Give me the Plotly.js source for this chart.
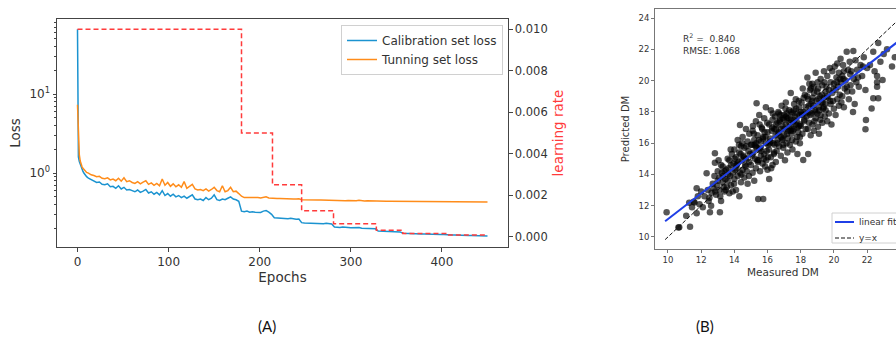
<!DOCTYPE html>
<html>
<head>
<meta charset="utf-8">
<script src="https://cdn.plot.ly/plotly-3.0.1.min.js"></script>
<style>html,body{margin:0;padding:0;background:#fff;}#chart{width:896px;height:337px;}</style>
</head>
<body>
<div id="chart"></div>
<script>
// ---------- Panel A : training history ----------
const epochs = [0,1,2,3,4,5,6,7,8,9,10,
12,15,18,21,24,27,30,33,36,39,
42,45,48,51,54,57,60,63,66,69,
72,75,78,81,84,87,90,93,96,99,
102,105,108,111,114,117,120,123,126,129,
132,135,138,141,144,147,150,153,156,159,
162,165,168,171,174,177,180,183,186,189,
192,195,198,201,204,207,210,213,216,219,
222,225,228,231,234,237,240,243,246,249,
252,255,258,261,264,267,270,273,276,279,
282,285,288,291,294,297,300,303,306,309,
312,315,318,321,324,327,330,333,336,339,
342,345,348,351,354,357,360,363,366,369,
372,375,378,381,384,387,390,393,396,399,
402,405,408,411,414,417,420,423,426,429,
432,435,438,441,444,447,450];

const calibrationLoss = [66,1.6,1.4,1.28,1.18,1.1,1.05,1.0,0.96,0.93,0.90,
0.86,0.82,0.80,0.76,0.77,0.72,0.71,0.73,0.67,0.68,
0.64,0.69,0.63,0.66,0.61,0.62,0.60,0.58,0.61,0.57,
0.59,0.62,0.56,0.58,0.54,0.57,0.53,0.60,0.52,0.55,
0.51,0.54,0.50,0.52,0.49,0.51,0.48,0.50,0.53,0.47,
0.46,0.47,0.45,0.49,0.46,0.48,0.53,0.46,0.45,0.47,
0.46,0.48,0.50,0.47,0.46,0.44,0.33,0.325,0.33,0.32,
0.325,0.32,0.322,0.318,0.33,0.335,0.32,0.30,0.272,0.27,
0.268,0.27,0.266,0.265,0.268,0.262,0.26,0.262,0.236,0.233,
0.232,0.234,0.23,0.232,0.229,0.23,0.228,0.231,0.229,0.227,
0.208,0.206,0.205,0.207,0.204,0.205,0.203,0.204,0.202,0.205,
0.201,0.2,0.202,0.199,0.198,0.197,0.185,0.184,0.183,0.183,
0.182,0.181,0.182,0.18,0.18,0.173,0.172,0.172,0.171,0.171,
0.17,0.17,0.169,0.17,0.169,0.168,0.168,0.168,0.167,0.167,
0.167,0.165,0.164,0.164,0.164,0.163,0.163,0.163,0.162,0.162,
0.162,0.162,0.161,0.161,0.161,0.16,0.16];

const tuningLoss = [7.3,2.4,1.7,1.42,1.28,1.2,1.15,1.11,1.07,1.04,1.02,
1.00,0.95,0.93,0.90,0.91,0.86,0.85,0.87,0.82,0.84,
0.80,0.86,0.79,0.87,0.78,0.80,0.76,0.74,0.78,0.73,
0.77,0.80,0.72,0.75,0.70,0.74,0.69,0.84,0.70,0.76,
0.68,0.73,0.67,0.71,0.66,0.78,0.64,0.68,0.72,0.63,
0.61,0.62,0.60,0.63,0.59,0.62,0.66,0.60,0.58,0.69,
0.58,0.60,0.66,0.58,0.59,0.55,0.51,0.49,0.49,0.495,
0.487,0.485,0.49,0.484,0.493,0.50,0.485,0.48,0.478,0.476,
0.477,0.474,0.476,0.472,0.474,0.471,0.47,0.472,0.46,0.458,
0.457,0.459,0.456,0.458,0.455,0.457,0.455,0.462,0.456,0.454,
0.450,0.449,0.448,0.45,0.447,0.448,0.446,0.447,0.445,0.452,
0.445,0.444,0.445,0.443,0.444,0.442,0.441,0.441,0.44,0.44,
0.439,0.439,0.438,0.438,0.437,0.437,0.436,0.436,0.436,0.435,
0.435,0.435,0.434,0.434,0.434,0.434,0.433,0.433,0.433,0.433,
0.433,0.432,0.432,0.432,0.432,0.432,0.431,0.431,0.431,0.431,
0.431,0.431,0.43,0.43,0.43,0.43,0.43];

const lrEpochs = [0,180,214,246,281,328,357,405,450];
const learningRate = [0.01,0.005,0.0025,0.00125,0.000625,0.0003125,0.00015625,0.000078125,0.000078125];

const lossTickVals = [1,10];
const lossTickText = ['10<sup>0</sup>','10<sup>1</sup>'];
const lossMinorVals = [0.2,0.3,0.4,0.5,0.6,0.7,0.8,0.9,2,3,4,5,6,7,8,9,20,30,40,50,60,70,80];
const epochTicks = [0,100,200,300,400];
const lrTicks = [0,0.002,0.004,0.006,0.008,0.010];

// ---------- Panel B : measured vs predicted DM ----------
const measuredDM = [
9.92,10.63,10.68,11.33,11.28,11.73,11.73,11.55,11.9,11.1,11.45,11.8,12.0,11.6,
12.33,12.83,12.83,13.13,12.53,12.63,12.1,12.2,12.4,12.5,12.7,12.8,12.9,13.0,13.0,13.1,13.2,13.2,13.3,13.3,13.4,13.4,13.45,12.6,12.75,12.95,13.05,13.15,13.25,13.35,12.45,12.85,13.1,13.3,13.48,
13.5,13.55,13.6,13.6,13.65,13.7,13.7,13.75,13.8,13.8,13.85,13.9,13.9,13.95,14.0,14.0,14.05,14.1,14.1,14.15,14.2,14.2,14.25,14.3,14.3,14.34,14.35,14.4,14.4,14.45,14.5,14.5,14.55,14.6,14.6,14.65,14.7,14.7,14.75,14.8,14.8,14.85,14.9,14.9,14.95,15.0,13.62,13.78,13.98,14.12,14.28,14.42,14.58,14.72,14.88,14.02,14.48,14.18,14.68,14.38,
15.0,15.05,15.1,15.1,15.15,15.2,15.2,15.25,15.3,15.3,15.34,15.35,15.4,15.44,15.45,15.5,15.5,15.55,15.6,15.6,15.65,15.7,15.74,15.75,15.8,15.8,15.85,15.9,15.9,15.95,16.0,16.0,16.05,16.1,16.1,16.15,16.2,16.2,16.25,16.3,16.3,16.35,16.4,16.4,16.45,16.5,15.08,15.18,15.28,15.38,15.48,15.58,15.68,15.78,15.88,15.98,16.08,16.18,16.28,16.38,16.48,15.12,15.42,15.62,15.92,16.22,16.42,15.32,15.52,15.72,16.02,16.32,15.22,15.82,16.12,
16.5,16.55,16.6,16.6,16.65,16.7,16.7,16.75,16.8,16.8,16.85,16.9,16.9,16.95,17.0,17.0,17.05,17.1,17.1,17.15,17.2,17.2,17.25,17.3,17.3,17.35,17.4,17.4,17.45,17.5,17.5,17.55,17.6,17.6,17.65,17.7,17.7,17.75,17.8,17.8,17.85,17.9,17.9,17.95,18.0,16.52,16.62,16.72,16.82,16.92,17.02,17.12,17.22,17.32,17.42,17.52,17.62,17.72,17.82,17.92,16.58,16.78,16.98,17.18,17.38,17.58,17.78,17.98,16.68,16.88,17.08,17.28,17.48,17.68,17.88,17.95,16.95,17.45,17.15,
18.0,18.05,18.1,18.15,18.15,18.2,18.25,18.3,18.3,18.35,18.4,18.45,18.45,18.5,18.5,18.55,18.6,18.6,18.65,18.7,18.7,18.75,18.8,18.8,18.85,18.9,18.9,18.95,19.0,19.04,19.05,19.1,19.1,19.15,19.2,19.2,19.25,19.3,19.3,19.35,19.4,19.4,19.45,19.5,18.08,18.18,18.28,18.38,18.48,18.58,18.68,18.78,18.88,18.98,19.08,19.18,19.28,19.38,19.48,18.12,18.42,18.72,19.02,19.32,18.22,18.52,18.82,19.12,19.42,18.62,
19.5,19.55,19.6,19.6,19.65,19.7,19.7,19.75,19.8,19.8,19.85,19.9,19.9,19.95,20.0,20.0,20.05,20.1,20.1,20.15,20.2,20.2,20.25,20.3,20.3,20.35,20.4,20.4,20.45,20.5,20.5,20.55,20.6,20.6,20.65,20.7,20.77,20.8,20.85,20.9,20.95,21.0,19.58,19.78,19.98,20.18,20.38,20.58,20.78,20.98,
21.05,21.1,21.17,21.2,21.25,21.3,21.35,21.4,21.5,21.6,21.7,21.8,21.9,21.93,22.0,22.17,22.27,22.37,22.37,22.45,22.6,22.6,22.67,22.67,22.8,22.93,23.0,23.2,23.5,23.67,21.15,21.45,21.75,21.9,22.6];

const predictedDM = [
11.58,10.60,10.62,10.66,12.19,11.51,13.11,12.25,12.1,11.35,11.9,12.6,12.9,12.2,
14.07,14.75,15.35,11.58,11.58,12.82,11.9,12.6,13.0,12.5,13.4,13.9,12.7,13.6,14.2,13.0,12.3,14.6,13.5,13.9,12.9,14.2,13.7,12.0,13.1,13.3,14.9,12.6,14.1,13.2,12.3,12.9,13.8,14.5,13.0,
14.3,13.2,15.0,13.6,14.4,12.8,14.9,13.9,14.6,13.3,15.3,14.1,12.9,14.7,15.6,13.7,14.3,15.1,13.0,14.6,16.2,13.9,14.8,15.4,12.6,17.16,14.1,15.8,13.5,14.9,16.4,14.3,15.2,13.8,15.7,14.6,16.9,15.0,14.2,16.1,13.4,15.5,14.8,16.6,15.3,15.9,14.0,15.6,13.4,14.4,15.9,14.0,15.1,15.8,13.9,15.0,16.0,14.7,14.5,15.3,
14.6,15.9,14.1,16.8,15.4,13.6,16.2,15.0,14.4,17.4,18.55,15.7,16.5,12.43,14.9,15.6,17.8,14.2,16.1,15.2,17.0,14.7,12.43,16.4,15.3,17.6,14.5,16.0,18.3,15.5,16.7,14.3,15.9,17.2,13.7,16.3,15.1,18.1,16.8,14.6,17.5,16.0,15.4,16.9,17.7,14.8,15.2,16.6,15.8,14.9,16.2,15.7,16.9,15.0,16.4,17.3,15.6,16.1,17.0,15.3,16.5,17.1,14.8,15.5,14.9,14.4,15.9,16.0,17.2,16.3,15.1,17.9,15.9,16.7,16.0,
16.9,15.5,17.3,16.2,18.0,15.8,16.7,17.5,15.2,16.9,18.4,16.3,17.1,15.7,17.8,16.5,14.9,17.2,18.6,16.0,17.6,15.4,16.8,18.1,17.0,15.9,17.5,19.2,16.6,17.9,15.6,17.3,18.5,16.9,17.7,16.1,18.8,17.4,15.3,17.9,16.7,18.3,17.1,16.4,18.0,17.2,16.6,17.4,16.4,17.6,16.9,17.7,16.3,17.3,18.0,16.8,17.5,18.2,17.0,17.8,16.0,17.8,17.5,16.6,16.8,18.1,16.4,17.2,17.9,16.2,18.2,17.6,16.2,17.2,18.7,15.99,15.9,16.9,17.9,
17.1,18.6,16.6,14.92,18.0,17.4,19.1,16.9,18.3,17.7,20.2,15.3,18.8,17.3,18.0,19.4,16.5,18.5,17.9,19.8,17.2,18.4,16.8,19.2,18.1,17.6,20.5,18.7,17.9,17.05,19.5,18.3,16.6,19.0,17.8,20.1,18.6,17.3,19.7,18.2,18.9,20.6,17.7,19.3,17.8,18.9,17.9,19.0,18.4,17.8,18.7,19.6,18.0,19.3,18.8,17.5,19.1,18.3,18.5,19.5,16.9,18.9,19.9,18.6,17.5,19.8,17.4,18.1,19.9,19.5,
18.1,19.6,17.4,20.3,18.9,19.4,17.9,20.8,18.5,19.9,17.2,19.2,20.6,18.7,19.8,18.2,20.9,19.4,17.8,20.2,18.8,21.1,19.6,18.4,20.5,19.1,21.4,19.9,18.6,20.3,19.0,21.0,18.3,20.6,19.5,20.0,21.85,19.3,20.7,18.8,21.2,19.7,19.0,18.7,19.5,19.9,20.1,20.1,19.6,20.4,
20.6,19.3,21.9,20.1,18.5,21.3,19.9,20.7,19.6,21.0,20.3,21.5,19.4,17.48,20.8,21.0,18.22,21.85,18.87,20.6,19.6,20.3,22.4,18.87,21.2,20.04,21.7,22.0,20.9,21.5,18.0,20.2,20.9,16.89,19.9];

const fitX = [9.83, 24.5];
const fitY = [11.0, 23.02];
const identityX = [9.83, 24.6];
const identityY = [9.83, 24.6];
const dmTicks = [10,12,14,16,18,20,22,24];
const statsText = ['R<sup>2</sup> =  0.840', 'RMSE: 1.068'];
const panelLabels = ['(A)', '(B)'];

// ---------- helpers for pixel -> paper ----------
const W = 896, H = 337;
const px = x => x / W;
const py = y => 1 - y / H;

const FONT = 'DejaVu Sans, sans-serif';
const TXT = '#333';
const LINE = '#444';
const LINEB = '#777';
const RED = '#ff3b3b';

const traces = [
  {x: epochs, y: calibrationLoss, type: 'scatter', mode: 'lines', name: 'Calibration set loss',
   line: {color: '#1b93d0', width: 1.5}, xaxis: 'x', yaxis: 'y', legend: 'legend'},
  {x: epochs, y: tuningLoss, type: 'scatter', mode: 'lines', name: 'Tunning set loss',
   line: {color: '#ff8c1a', width: 1.5}, xaxis: 'x', yaxis: 'y', legend: 'legend'},
  {x: lrEpochs, y: learningRate, type: 'scatter', mode: 'lines', name: 'learning rate',
   line: {color: RED, width: 1.5, dash: '5px,3px', shape: 'hv'}, xaxis: 'x', yaxis: 'y2', showlegend: false},
  {x: measuredDM, y: predictedDM, type: 'scatter', mode: 'markers', name: 'samples',
   marker: {color: 'rgba(0,0,0,0.66)', size: 6.5, line: {width: 0}}, xaxis: 'x2', yaxis: 'y3', showlegend: false},
  {x: identityX, y: identityY, type: 'scatter', mode: 'lines', name: 'y=x',
   line: {color: '#111', width: 1, dash: '4px,2px'}, xaxis: 'x2', yaxis: 'y3', showlegend: false},
  {x: fitX, y: fitY, type: 'scatter', mode: 'lines', name: 'linear fit',
   line: {color: '#1f3fe6', width: 2}, xaxis: 'x2', yaxis: 'y3', showlegend: false}
];

const layout = {
  width: W, height: H, autosize: false,
  margin: {l: 0, r: 0, t: 0, b: 0},
  paper_bgcolor: '#fff', plot_bgcolor: '#fff',
  font: {family: FONT, color: TXT, size: 12},
  showlegend: true,
  legend: {x: px(341), y: py(25), xanchor: 'left', yanchor: 'top',
    bgcolor: 'rgba(255,255,255,0.9)', bordercolor: '#d0d0d0', borderwidth: 1,
    font: {family: FONT, size: 12, color: TXT}, tracegroupgap: 0},
  xaxis: {domain: [px(57), px(508)], anchor: 'y', range: [-22.5, 472.5],
    tickmode: 'array', tickvals: epochTicks, ticks: 'outside', ticklen: 3.5, tickcolor: LINE,
    showline: true, linecolor: LINE, linewidth: 1, mirror: true, showgrid: false, zeroline: false,
    tickfont: {size: 12, color: TXT},
    title: {text: 'Epochs', font: {size: 13.5, color: TXT}, standoff: 4}},
  yaxis: {domain: [py(247), py(19)], anchor: 'x', type: 'log', range: [Math.log10(0.116), Math.log10(89)],
    tickmode: 'array', tickvals: lossTickVals, ticktext: lossTickText,
    ticks: 'outside', ticklen: 3.5, tickcolor: LINE,
    minor: {tickmode: 'array', tickvals: lossMinorVals, ticks: 'outside', ticklen: 2, tickcolor: LINE, showgrid: false},
    showline: true, linecolor: LINE, linewidth: 1, mirror: true, showgrid: false, zeroline: false,
    tickfont: {size: 12, color: TXT},
    title: {text: 'Loss', font: {size: 13.5, color: TXT}, standoff: 5}},
  yaxis2: {overlaying: 'y', side: 'right', anchor: 'x', range: [-0.0005, 0.0105],
    tickmode: 'array', tickvals: lrTicks, tickformat: '.3f',
    ticks: 'outside', ticklen: 3.5, tickcolor: LINE,
    showline: false, showgrid: false, zeroline: false,
    tickfont: {size: 11.5, color: TXT},
    title: {text: 'learning rate', font: {size: 13.5, color: RED}, standoff: 6}},
  xaxis2: {domain: [px(655), 1], anchor: 'y3', range: [9.22, 23.74],
    tickmode: 'array', tickvals: dmTicks, ticks: 'outside', ticklen: 3, tickcolor: LINEB,
    showline: true, linecolor: LINEB, linewidth: 1, mirror: true, showgrid: false, zeroline: false,
    tickfont: {size: 8.5, color: TXT}},
  yaxis3: {domain: [py(249), py(9)], anchor: 'x2', range: [9.23, 24.58],
    tickmode: 'array', tickvals: dmTicks, ticks: 'outside', ticklen: 3, tickcolor: LINEB,
    showline: true, linecolor: LINEB, linewidth: 1, mirror: false, showgrid: false, zeroline: false,
    tickfont: {size: 8.5, color: TXT},
    title: {text: 'Predicted DM', font: {size: 10, color: TXT}, standoff: 6}},
  shapes: [
    {type: 'rect', xref: 'paper', yref: 'paper', x0: px(832), x1: px(905), y0: py(243), y1: py(213),
     line: {color: '#d0d0d0', width: 1}, fillcolor: 'rgba(255,255,255,0.9)', layer: 'above'},
    {type: 'line', xref: 'paper', yref: 'paper', x0: px(835), x1: px(854), y0: py(222), y1: py(222),
     line: {color: '#1f3fe6', width: 2}, layer: 'above'},
    {type: 'line', xref: 'paper', yref: 'paper', x0: px(835), x1: px(854), y0: py(238), y1: py(238),
     line: {color: '#111', width: 1, dash: '4px,2px'}, layer: 'above'}
  ],
  annotations: [
    {text: 'linear fit', xref: 'paper', yref: 'paper', x: px(857), y: py(222), xanchor: 'left', yanchor: 'middle',
     showarrow: false, font: {family: FONT, size: 9, color: TXT}},
    {text: 'y=x', xref: 'paper', yref: 'paper', x: px(857), y: py(238), xanchor: 'left', yanchor: 'middle',
     showarrow: false, font: {family: FONT, size: 9, color: TXT}},
    {text: statsText[0], xref: 'paper', yref: 'paper', x: px(681), y: py(38), xanchor: 'left', yanchor: 'middle',
     showarrow: false, font: {family: FONT, size: 9, color: TXT}},
    {text: statsText[1], xref: 'paper', yref: 'paper', x: px(681), y: py(51), xanchor: 'left', yanchor: 'middle',
     showarrow: false, font: {family: FONT, size: 9, color: TXT}},
    {text: 'Measured DM', xref: 'paper', yref: 'paper', x: px(783), y: py(272), xanchor: 'center', yanchor: 'middle',
     showarrow: false, font: {family: FONT, size: 10.5, color: TXT}},
    {text: panelLabels[0], xref: 'paper', yref: 'paper', x: px(267), y: py(326), xanchor: 'center', yanchor: 'middle',
     showarrow: false, font: {family: 'Lato, Open Sans, sans-serif', size: 15, color: '#111'}},
    {text: panelLabels[1], xref: 'paper', yref: 'paper', x: px(705), y: py(326), xanchor: 'center', yanchor: 'middle',
     showarrow: false, font: {family: 'Lato, Open Sans, sans-serif', size: 15, color: '#111'}}
  ]
};

Plotly.newPlot('chart', traces, layout, {displayModeBar: false, staticPlot: true});
</script>
</body>
</html>
